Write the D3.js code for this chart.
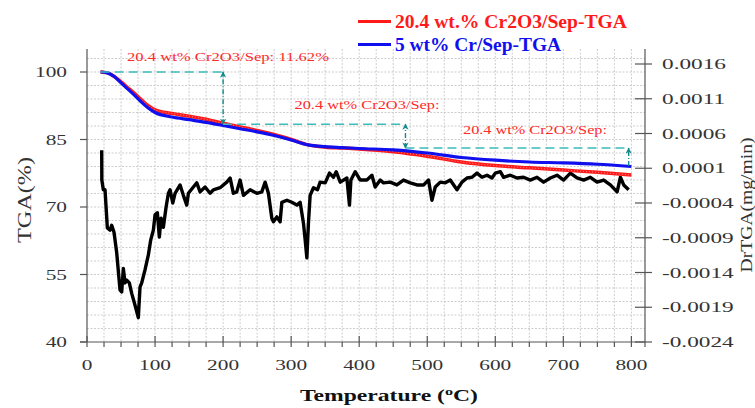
<!DOCTYPE html>
<html><head><meta charset="utf-8">
<script src="https://cdn.jsdelivr.net/npm/d3@7"></script>
<style>body{margin:0;background:#fff}svg{display:block}</style>
</head><body>
<svg id="c" width="755" height="408"></svg>
<script>
// ---- data ----
const tgaTemps = [20,30,40,50,60,70,80,90,100,125,150,175,200,225,250,275,300,325,350,375,400,450,500,550,600,650,700,750,800];
const tgaCr2O3 = [100,99.8,99.0,97.8,96.5,95.2,93.8,92.5,91.6,90.8,90.2,89.5,88.6,87.8,87.0,86.1,85.0,83.8,83.3,83.1,82.9,82.3,81.3,80.0,79.2,78.7,78.2,77.7,77.1];
const tgaCr     = [100,99.8,99.0,97.6,96.2,94.8,93.3,92.0,91.0,90.0,89.4,88.8,88.1,87.4,86.7,85.9,84.9,83.8,83.4,83.2,83.0,82.7,82.0,81.0,80.4,80.0,79.8,79.5,79.0];
const drTemps = [21.6,21.8,24.0,26.5,29.9,33.8,36.3,39.7,43.7,48.5,51.0,53.4,55.9,58.4,62.2,65.7,70.6,75.4,77.9,80.4,85.3,90.1,93.7,97.5,100,103.4,106.3,108.8,112.2,116.2,119.6,122.1,126.0,129.4,136.8,141.6,146.6,149.0,156.3,161.3,166.2,173.5,180.9,185.7,195.6,205.4,210.3,215.1,220.1,225.0,229.9,239.7,249.6,256.9,261.8,266.6,271.6,274.0,279.0,283.8,286.3,293.7,301.0,308.4,313.2,318.1,320.6,323.1,325.4,327.9,332.8,338.7,342.6,350.0,356.3,362.2,366.2,372.1,381.9,385.7,387.8,394.1,401.5,411.3,418.7,423.5,430.9,435.7,445.6,455.4,465.1,475.0,484.9,494.6,501.9,506.9,511.8,519.1,526.5,533.8,543.7,551.0,558.4,565.7,573.1,580.4,587.8,595.1,600,607.4,612.2,622.1,631.9,641.6,651.5,661.3,671.0,680.9,690.7,700.4,710.3,720.1,729.9,739.7,749.6,759.3,769.1,779.0,783.8,788.7,796.0];
const drValues = [3.6,-0.7,-2.1,-2.1,-7.6,-7.9,-7.2,-8.2,-11.2,-16.5,-16.8,-13.4,-15.5,-15.1,-15.5,-17.0,-18.7,-20.5,-16.1,-15.5,-13.6,-11.5,-9.3,-7.9,-5.7,-5.4,-8.9,-6.2,-7.5,-4.6,-2.6,-2.1,-4.0,-2.6,-1.4,-2.9,-4.3,-2.6,-1.7,-1.1,-2.4,-1.7,-2.6,-2.1,-1.8,-1.0,-0.4,-2.6,-2.4,-0.7,-2.9,-2.1,-2.6,-2.4,-1.0,-2.6,-6.2,-6.7,-6.0,-6.7,-3.9,-3.6,-3.9,-4.3,-3.9,-6.9,-9.3,-11.9,-6.9,-2.9,-1.8,-2.1,-1.0,-1.1,0.3,-0.3,0.5,-1.0,-0.4,-4.3,-0.7,0.5,-0.7,-0.7,0.0,-1.7,-0.7,-1.1,-1.0,-1.4,-0.7,-1.1,-1.4,-1.4,-0.7,-3.6,-1.7,-1.0,-1.1,-0.7,-2.1,-1.0,-0.4,-0.3,0.3,-0.3,0.0,-0.4,0.3,0.5,-0.3,0.0,-0.4,-0.3,-0.7,-0.3,-1.0,-0.4,0.0,-0.7,0.3,-0.4,-0.7,-0.3,-1.0,-0.7,-1.4,-2.4,-0.3,-1.4,-2.1].map(v => v * 1e-4);
const xTicks = [0,100,200,300,400,500,600,700,800];
const yLeftTicks = [40,55,70,85,100];
const yRightTicks = [-0.0024,-0.0019,-0.0014,-0.0009,-0.0004,0.0001,0.0006,0.0011,0.0016];
const seriesNames = ["20.4 wt.% Cr2O3/Sep-TGA","5 wt% Cr/Sep-TGA"];
const seriesColors = ["#ff1a1a","#1010ee"];
// annotation steps (temperature, TGA level)
const stepTemps = [20,200,468,796];
const stepLevels = [100,88.4,83.1,79.1];
const annTexts = ["20.4 wt% Cr2O3/Sep: 11.62%","20.4 wt% Cr2O3/Sep:","20.4 wt% Cr2O3/Sep:"];

// ---- chart ----
const svg = d3.select("#c");
const x = d3.scaleLinear().domain([0,820]).range([87,645]);
const yL = d3.scaleLinear().domain([40,100]).range([342,72]);
const yR = d3.scaleLinear().domain([-0.0024,0.0016]).range([342,64]);
const plotTop = 49, plotBottom = 342;
const serif = "'Liberation Serif','Times New Roman',serif";
const STRETCH = 1.42;
// widen text like the reference (measured natural width * stretch)
function widen(sel, factor){
  sel.each(function(){
    const w = this.getComputedTextLength();
    d3.select(this).attr("textLength", w*factor).attr("lengthAdjust","spacingAndGlyphs");
  });
  return sel;
}

// grid
const g = svg.append("g");
d3.range(25,821,25).forEach(t => {
  g.append("line").attr("x1",x(t)).attr("x2",x(t)).attr("y1",plotTop).attr("y2",plotBottom)
   .attr("stroke","#cdcdcd").attr("stroke-width",1).attr("stroke-dasharray","2,1.5");
});
d3.range(43,105,3).forEach(v => {
  g.append("line").attr("x1",x(0)).attr("x2",x(820)).attr("y1",yL(v)).attr("y2",yL(v))
   .attr("stroke","#cdcdcd").attr("stroke-width",1).attr("stroke-dasharray","2,1.5");
});

// axes
const axc = "#555";
svg.append("line").attr("x1",x(0)).attr("x2",x(0)).attr("y1",plotTop).attr("y2",plotBottom).attr("stroke",axc).attr("stroke-width",1.2);
svg.append("line").attr("x1",x(820)).attr("x2",x(820)).attr("y1",plotTop).attr("y2",plotBottom+5).attr("stroke",axc).attr("stroke-width",1.2);
svg.append("line").attr("x1",x(0)-7).attr("x2",x(820)).attr("y1",plotBottom).attr("y2",plotBottom).attr("stroke",axc).attr("stroke-width",1.2);
d3.range(0,821,25).forEach(t => {
  const major = t % 100 === 0;
  svg.append("line").attr("x1",x(t)).attr("x2",x(t))
    .attr("y1",major ? plotBottom-6 : plotBottom).attr("y2",plotBottom+5).attr("stroke",axc).attr("stroke-width",1.2);
});
widen(svg.selectAll(".xl").data(xTicks).join("text").attr("x",d=>x(d)).attr("y",370)
  .attr("text-anchor","middle").attr("font-family",serif).attr("font-size",15).attr("fill","#333").text(d=>d), STRETCH);
yLeftTicks.forEach(v => {
  svg.append("line").attr("x1",x(0)-7).attr("x2",x(0)).attr("y1",yL(v)).attr("y2",yL(v)).attr("stroke",axc).attr("stroke-width",1.2);
});
widen(svg.selectAll(".yl").data(yLeftTicks).join("text").attr("x",67).attr("y",d=>yL(d)+5)
  .attr("text-anchor","end").attr("font-family",serif).attr("font-size",15).attr("fill","#333").text(d=>d), STRETCH);
yRightTicks.forEach(v => {
  svg.append("line").attr("x1",x(820)-10).attr("x2",x(820)+7).attr("y1",yR(v)).attr("y2",yR(v)).attr("stroke",axc).attr("stroke-width",1.2);
});
widen(svg.selectAll(".yr").data(yRightTicks).join("text").attr("x",662).attr("y",d=>yR(d)+5)
  .attr("font-family",serif).attr("font-size",15).attr("fill","#333").text(d=>d.toFixed(4)), 1.55);

// axis titles
svg.append("text").attr("transform","translate(31,200) rotate(-90)").attr("text-anchor","middle")
  .attr("font-family",serif).attr("font-size",19).attr("fill","#333")
  .attr("textLength",86).attr("lengthAdjust","spacingAndGlyphs").text("TGA(%)");
svg.append("text").attr("transform","translate(752,205) rotate(-90)").attr("text-anchor","middle")
  .attr("font-family",serif).attr("font-size",16).attr("fill","#333")
  .attr("textLength",135).attr("lengthAdjust","spacingAndGlyphs").text("DrTGA(mg/min)");
const xt = svg.append("text").attr("x",389).attr("y",401).attr("text-anchor","middle")
  .attr("font-family",serif).attr("font-size",16).attr("font-weight","bold").attr("fill","#111")
  .attr("textLength",178).attr("lengthAdjust","spacingAndGlyphs");
xt.append("tspan").text("Temperature (");
xt.append("tspan").attr("font-size",11).attr("dy",-6).text("o");
xt.append("tspan").attr("dy",6).text("C)");

// lines
const lineL = d3.line().x(d=>x(d[0])).y(d=>yL(d[1])).curve(d3.curveMonotoneX);
const lineR = d3.line().x(d=>x(d[0])).y(d=>yR(d[1]));
svg.append("path").attr("d",lineR(drTemps.map((t,i)=>[t,drValues[i]])))
  .attr("fill","none").attr("stroke","#000").attr("stroke-width",3.4).attr("stroke-linejoin","round");
svg.append("path").attr("d",lineL(tgaTemps.map((t,i)=>[t,tgaCr2O3[i]])))
  .attr("fill","none").attr("stroke",seriesColors[0]).attr("stroke-width",3.5);
svg.append("path").attr("d",lineL(tgaTemps.map((t,i)=>[t,tgaCr2O3[i]])))
  .attr("fill","none").attr("stroke","#ff8080").attr("stroke-width",1).attr("stroke-dasharray","1,2");
svg.append("path").attr("d",lineL(tgaTemps.map((t,i)=>[t,tgaCr[i]])))
  .attr("fill","none").attr("stroke",seriesColors[1]).attr("stroke-width",3.2);

// annotations
const defs = svg.append("defs");
defs.append("marker").attr("id","ah").attr("viewBox","0 0 10 10").attr("refX",9).attr("refY",5)
  .attr("markerWidth",4.5).attr("markerHeight",4.5).attr("orient","auto-start-reverse")
  .append("path").attr("d","M0,0 L10,5 L0,10 L3,5 Z").attr("fill","#118a8a");
for (let i=0;i<3;i++){
  svg.append("line").attr("x1",x(stepTemps[i])).attr("x2",x(stepTemps[i+1])).attr("y1",yL(stepLevels[i])).attr("y2",yL(stepLevels[i]))
    .attr("stroke","#3cbcbc").attr("stroke-width",1.6).attr("stroke-dasharray","9,5");
  const v = svg.append("line").attr("x1",x(stepTemps[i+1])).attr("x2",x(stepTemps[i+1]))
    .attr("y1",yL(stepLevels[i+1])).attr("y2",yL(stepLevels[i]))
    .attr("stroke","#118a8a").attr("stroke-width",1.4).attr("stroke-dasharray","5,2,1,2")
    .attr("marker-end","url(#ah)");
  if (i<2) v.attr("marker-start","url(#ah)");
}
const annPos = [[228,61],[367,109],[535,134]];
const annLen = [202,145,144];
annTexts.forEach((t,i)=>{
  svg.append("text").attr("x",annPos[i][0]).attr("y",annPos[i][1]).attr("text-anchor","middle")
    .attr("font-family",serif).attr("font-size",13.5).attr("fill","#ff2a2a")
    .attr("textLength",annLen[i]).attr("lengthAdjust","spacingAndGlyphs").text(t);
});

// legend
const legLen = [232,166];
seriesNames.forEach((n,i)=>{
  const yy = i===0 ? 21.5 : 44.5;
  svg.append("line").attr("x1",358).attr("x2",391).attr("y1",yy).attr("y2",yy)
    .attr("stroke",seriesColors[i]).attr("stroke-width",3);
  svg.append("text").attr("x",395).attr("y",yy+6).attr("font-family",serif).attr("font-size",18)
    .attr("font-weight","bold").attr("fill",seriesColors[i])
    .attr("textLength",legLen[i]).attr("lengthAdjust","spacingAndGlyphs").text(n);
});
</script>
</body></html>
